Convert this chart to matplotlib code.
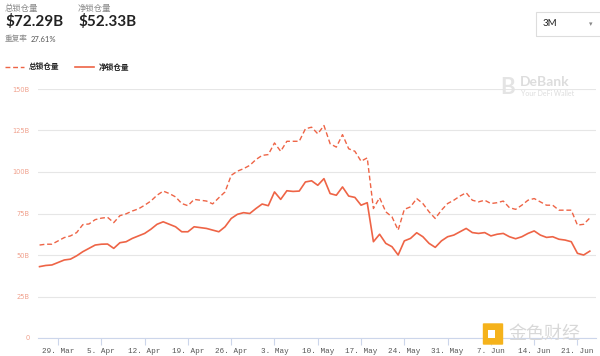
import pandas as pd
import matplotlib.pyplot as plt
import matplotlib.dates as mdates
from matplotlib.ticker import FuncFormatter
from matplotlib.patches import Rectangle, FancyBboxPatch

# ------------------------------
# 1. Data (daily, 26 Mar - 23 Jun)
# ------------------------------
start_date = "2021-03-26"
total_tvl = [56, 56.5, 56.5, 58.5, 60.5, 61.5, 63.5, 68.3, 68.7, 71.3,
             72.2, 72.7, 69.5, 73.7, 74.8, 76.5, 77.8, 80, 82.5, 86,
             88.5, 87, 85, 81, 79.7, 83.5, 83, 82.5, 80.8, 84.5,
             88, 98, 100.5, 102, 104, 107.5, 110, 110.5, 117.5, 112.5,
             118.5, 118.5, 118.5, 126, 127, 123, 128, 117, 115, 122.5,
             114, 112.5, 106.5, 108.5, 78, 84.5, 76, 73, 65, 77.5,
             79, 84, 81, 76, 72, 77, 81, 83, 85.5, 87.5,
             83, 82, 83, 81, 81.5, 82.5, 78.5, 77.5, 80, 83,
             84, 82, 80, 80, 77, 77, 77, 68, 68.5, 72.29]
net_tvl = [43, 43.7, 44, 45.5, 47, 47.5, 49.5, 52, 54, 56,
           56.5, 56.6, 54, 57.4, 58, 60, 61.5, 63, 65.5, 68.5,
           70, 68.5, 67, 64, 64, 67, 66.5, 66, 65, 64,
           67, 72, 74.5, 75.5, 75, 78, 80.7, 79.7, 88, 83.5,
           88.7, 88.3, 88.5, 94, 94.7, 92, 96, 87, 86, 91,
           85.5, 84.7, 80, 81.5, 58, 62.5, 57, 55, 50, 58.5,
           60, 63.4, 61, 57, 54.6, 58.5, 61, 62, 64, 66,
           63.5, 63, 63.5, 61.5, 62.5, 63, 61, 59.8, 61, 63,
           64.5, 62, 60.6, 61, 59.5, 59, 58, 51, 50, 52.33]
y_ticks = [0, 25, 50, 75, 100, 125, 150]
y_labels = ["0", "25B", "50B", "75B", "100B", "125B", "150B"]

dates = pd.date_range(start_date, periods=len(total_tvl), freq="D")

# ------------------------------
# 2. Figure
# ------------------------------
line_color = "#EE6446"
cjk = ["Noto Sans CJK SC", "DejaVu Sans"]

fig = plt.figure(figsize=(6, 3.56), dpi=100)
ax = fig.add_axes([38 / 600, 18 / 356, 558 / 600, 249 / 356])

ax.plot(dates, total_tvl, color=line_color, lw=1.0, ls=(0, (3.5, 2)))
ax.plot(dates, net_tvl, color=line_color, lw=1.2)

ax.set_ylim(0, 150)
ax.set_xlim(pd.Timestamp("2021-03-25 18:00"), pd.Timestamp("2021-06-24"))
ax.set_yticks(y_ticks)
ax.set_yticklabels(y_labels, color="#F0A08C", fontsize=4.8)
ax.grid(axis="y", color="#E6E6E6", lw=0.8)
ax.set_axisbelow(True)


def day_label(x, pos):
    d = mdates.num2date(x)
    return f"{d.day}. {d.strftime('%b')}"


ax.set_xticks(pd.date_range("2021-03-29", "2021-06-21", freq="7D"))
ax.xaxis.set_major_formatter(FuncFormatter(day_label))
for lab in ax.get_xticklabels():
    lab.set_fontfamily("Liberation Mono")
    lab.set_fontsize(5.5)
    lab.set_color("#555555")
ax.tick_params(axis="x", length=5, color="#CCD6EB", pad=2)
ax.tick_params(axis="y", length=0, pad=6)

for side in ["top", "right", "left"]:
    ax.spines[side].set_visible(False)
ax.spines["bottom"].set_color("#CCD6EB")

# ------------------------------
# 3. Header texts
# ------------------------------
fig.text(5 / 600, 1 - 8 / 356, "总锁仓量", family=cjk, fontsize=6,
         color="#888888", va="center")
fig.text(5 / 600, 1 - 21 / 356, "$72.29B", family="Lato", fontsize=11,
         weight="bold", color="#222222", va="center")
fig.text(78 / 600, 1 - 8 / 356, "净锁仓量", family=cjk, fontsize=6,
         color="#888888", va="center")
fig.text(78 / 600, 1 - 21 / 356, "$52.33B", family="Lato", fontsize=11,
         weight="bold", color="#222222", va="center")
fig.text(5 / 600, 1 - 39 / 356, "重复率", family=cjk, fontsize=5.5,
         color="#888888", va="center")
fig.text(31 / 600, 1 - 39 / 356, "27.61%", family="Lato", fontsize=5.5,
         color="#555555", va="center")

# legend
fig.add_artist(plt.Line2D([5 / 600, 24 / 600], [1 - 67 / 356] * 2,
                          color=line_color, lw=1.0, ls=(0, (3.5, 2))))
fig.text(29 / 600, 1 - 67 / 356, "总锁仓量", family=cjk, fontsize=5.5,
         weight="bold", color="#222222", va="center")
fig.add_artist(plt.Line2D([75 / 600, 94 / 600], [1 - 67 / 356] * 2,
                          color=line_color, lw=1.2))
fig.text(99 / 600, 1 - 67 / 356, "净锁仓量", family=cjk, fontsize=5.5,
         weight="bold", color="#222222", va="center")

# period selector
fig.add_artist(Rectangle((536 / 600, 1 - 36 / 356), 70 / 600, 24 / 356,
                         transform=fig.transFigure, fill=False,
                         edgecolor="#DDDDDD", lw=0.8))
fig.text(543 / 600, 1 - 24 / 356, "3M", family="Lato", fontsize=7,
         color="#222222", va="center")
fig.text(589 / 600, 1 - 24 / 356, "▾", fontsize=5, color="#888888",
         va="center")

# watermarks
fig.text(520 / 600, 1 - 82 / 356, "DeBank", family="Lato", fontsize=10,
         weight="bold", color="#DDDDDD", va="center")
fig.text(521 / 600, 1 - 93 / 356, "Your DeFi Wallet", family="Lato",
         fontsize=5, color="#DDDDDD", va="center")
fig.text(500 / 600, 1 - 87 / 356, "B", family="Lato", fontsize=16,
         weight="bold", color="#E4E4E4", va="center")

fig.add_artist(FancyBboxPatch((484 / 600, 1 - 344 / 356), 18 / 600, 20 / 356,
                              boxstyle="round,pad=0.002",
                              transform=fig.transFigure,
                              facecolor="#F5B21B", edgecolor="none"))
fig.add_artist(Rectangle((488 / 600, 1 - 338 / 356), 7 / 600, 8 / 356,
                         transform=fig.transFigure, facecolor="white",
                         edgecolor="none"))
fig.text(508 / 600, 1 - 334 / 356, "金色财经", family=cjk, fontsize=13,
         color="#D8D8D8", va="center")

plt.savefig("out.png", dpi=100)
